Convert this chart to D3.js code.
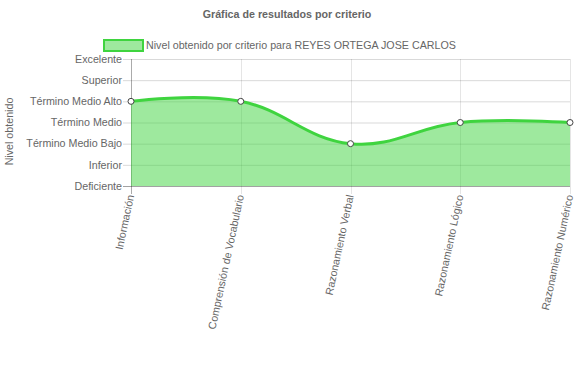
<!DOCTYPE html>
<html>
<head>
<meta charset="utf-8">
<script src="https://cdn.jsdelivr.net/npm/d3@7.9.0/dist/d3.min.js"></script>
<style>
  body { margin: 0; background: #fff; }
  svg text { font-family: "Liberation Sans", Arial, sans-serif; fill: #666; }
</style>
</head>
<body>
<svg id="chart" width="574" height="368"></svg>
<script>
// data
const criterios = ['Información', 'Comprensión de Vocabulario', 'Razonamiento Verbal', 'Razonamiento Lógico', 'Razonamiento Numérico'];
const niveles = ['Deficiente', 'Inferior', 'Término Medio Bajo', 'Término Medio', 'Término Medio Alto', 'Superior', 'Excelente'];
const valores = [4, 4, 2, 3, 3];
const chartTitle = 'Gráfica de resultados por criterio';
const serieLabel = 'Nivel obtenido por criterio para REYES ORTEGA JOSE CARLOS';
const yTitle = 'Nivel obtenido';

const svg = d3.select('#chart');
const area = { left: 131, right: 570, top: 59, bottom: 186 };
const fontSize = '10.7px';

const x = d3.scalePoint().domain(criterios).range([area.left, area.right]);
const y = d3.scaleLinear().domain([0, niveles.length - 1]).range([area.bottom, area.top]);

const lineColor = '#3fd43f';
const fillColor = 'rgba(62, 212, 62, 0.5)';

// title
svg.append('text')
  .attr('x', 287).attr('y', 18)
  .attr('text-anchor', 'middle')
  .style('font-size', fontSize).style('font-weight', 'bold')
  .text(chartTitle);

// legend
svg.append('rect')
  .attr('x', 104).attr('y', 40).attr('width', 39).attr('height', 11)
  .attr('fill', fillColor).attr('stroke', lineColor).attr('stroke-width', 2);
svg.append('text')
  .attr('x', 146).attr('y', 49)
  .style('font-size', fontSize)
  .text(serieLabel);

// y title
svg.append('text')
  .attr('transform', `translate(13,${(area.top + area.bottom) / 2 + 9}) rotate(-90)`)
  .attr('text-anchor', 'middle')
  .style('font-size', fontSize)
  .text(yTitle);

// horizontal grid
svg.append('g')
  .selectAll('line')
  .data(d3.range(niveles.length))
  .join('line')
  .attr('x1', area.left - 8).attr('x2', area.right)
  .attr('y1', d => y(d) + 0.5).attr('y2', d => y(d) + 0.5)
  .attr('stroke', 'rgba(0,0,0,0.15)');

// vertical grid
svg.append('g')
  .selectAll('line')
  .data(criterios)
  .join('line')
  .attr('x1', d => Math.round(x(d)) + 0.5).attr('x2', d => Math.round(x(d)) + 0.5)
  .attr('y1', area.top).attr('y2', area.bottom + 8)
  .attr('stroke', 'rgba(0,0,0,0.1)');

// axis border lines
svg.append('line')
  .attr('x1', area.left + 0.5).attr('x2', area.left + 0.5)
  .attr('y1', area.top).attr('y2', area.bottom + 8)
  .attr('stroke', 'rgba(0,0,0,0.25)');
svg.append('line')
  .attr('x1', area.left - 8).attr('x2', area.right)
  .attr('y1', area.bottom + 0.5).attr('y2', area.bottom + 0.5)
  .attr('stroke', 'rgba(0,0,0,0.25)');

// y tick labels
svg.append('g')
  .selectAll('text')
  .data(niveles)
  .join('text')
  .attr('x', area.left - 9)
  .attr('y', (d, i) => y(i))
  .attr('dy', '0.35em')
  .attr('text-anchor', 'end')
  .style('font-size', fontSize)
  .text(d => d);

// x tick labels (rotated)
svg.append('g')
  .selectAll('text')
  .data(criterios)
  .join('text')
  .attr('transform', d => `translate(${x(d)},${area.bottom + 9}) rotate(-78)`)
  .attr('text-anchor', 'end')
  .attr('dy', '0.3em')
  .style('font-size', fontSize)
  .text(d => d);

// area + line
const pts = criterios.map((c, i) => [x(c), y(valores[i])]);
const curve = d3.curveCardinal.tension(-0.2);

svg.append('path')
  .datum(pts)
  .attr('fill', fillColor)
  .attr('d', d3.area().x(d => d[0]).y0(area.bottom).y1(d => d[1]).curve(curve));

svg.append('path')
  .datum(pts)
  .attr('fill', 'none')
  .attr('stroke', lineColor)
  .attr('stroke-width', 3)
  .attr('d', d3.line().curve(curve));

// points
svg.append('g')
  .selectAll('circle')
  .data(pts)
  .join('circle')
  .attr('cx', d => d[0]).attr('cy', d => d[1]).attr('r', 3)
  .attr('fill', '#fff').attr('stroke', '#444').attr('stroke-width', 1);
</script>
</body>
</html>
